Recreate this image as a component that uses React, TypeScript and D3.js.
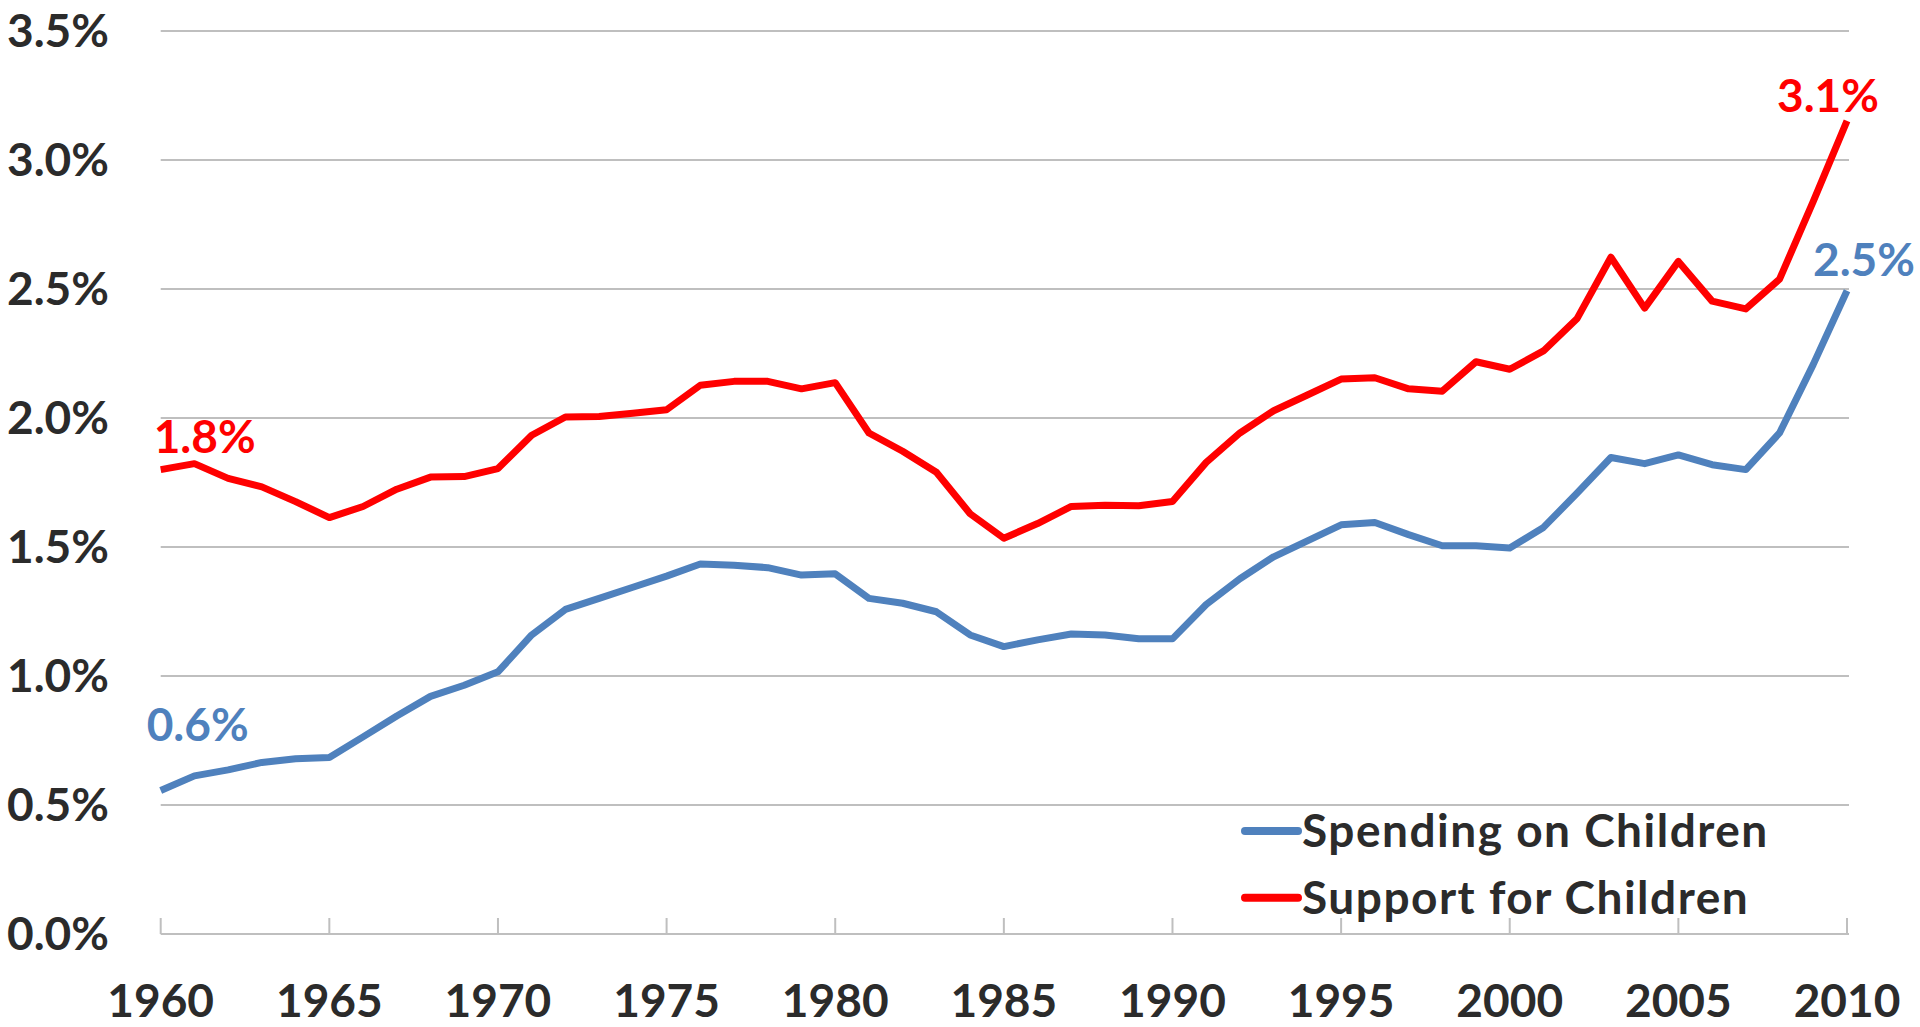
import React from "react";
import * as d3 from "d3";

const years: number[] = d3.range(1960, 2011);

const supportForChildren: number[] = [
  1.80, 1.823, 1.766, 1.733, 1.676, 1.614, 1.657, 1.724, 1.771, 1.773,
  1.804, 1.933, 2.004, 2.006, 2.018, 2.032, 2.127, 2.142, 2.142, 2.113,
  2.137, 1.942, 1.871, 1.790, 1.629, 1.534, 1.591, 1.657, 1.662, 1.660,
  1.676, 1.828, 1.942, 2.028, 2.089, 2.151, 2.156, 2.113, 2.104, 2.218,
  2.189, 2.260, 2.386, 2.623, 2.426, 2.607, 2.453, 2.423, 2.538, 2.840,
  3.152,
];

const spendingOnChildren: number[] = [
  0.556, 0.613, 0.636, 0.665, 0.679, 0.684, 0.764, 0.845, 0.921, 0.964,
  1.016, 1.159, 1.258, 1.301, 1.344, 1.387, 1.434, 1.429, 1.420, 1.391,
  1.396, 1.301, 1.282, 1.249, 1.159, 1.114, 1.140, 1.163, 1.159, 1.144,
  1.144, 1.277, 1.377, 1.462, 1.524, 1.586, 1.595, 1.548, 1.505, 1.505,
  1.496, 1.576, 1.709, 1.847, 1.823, 1.857, 1.819, 1.800, 1.942, 2.208,
  2.493,
];

const yTicks: number[] = [0, 0.5, 1.0, 1.5, 2.0, 2.5, 3.0, 3.5];
const xTicks: number[] = [1960, 1965, 1970, 1975, 1980, 1985, 1990, 1995, 2000, 2005, 2010];

const seriesNames: string[] = ["Spending on Children", "Support for Children"];
const seriesColors: string[] = ["#4F81BD", "#FF0000"];
const annotationTexts: string[] = ["0.6%", "2.5%", "1.8%", "3.1%"];

const FONT = "Lato, 'Open Sans', sans-serif";
const TEXT_COLOR = "#2b2b2b";

export default function App() {
  const width = 1920;
  const height = 1027;
  const x = d3.scaleLinear().domain([1960, 2010]).range([160.7, 1847]);
  const y = d3.scaleLinear().domain([0, 3.5]).range([934, 31]);

  const line = d3
    .line<number>()
    .x((_, i) => x(years[i]))
    .y((d) => y(d));

  const series = [spendingOnChildren, supportForChildren];
  const last = years.length - 1;

  // annotations: [text, series index, point index, dx, dy, anchor]
  const annotations: [string, number, number, number, number, string][] = [
    [annotationTexts[0], 0, 0, -14, -50, "start"],
    [annotationTexts[1], 0, last, 68, -15, "end"],
    [annotationTexts[2], 1, 0, -7, -17, "start"],
    [annotationTexts[3], 1, last, 32, -9, "end"],
  ];

  return (
    <svg
      width={width}
      height={height}
      style={{ position: "absolute", left: 0, top: 0, background: "#fff" }}
    >
      <rect width={width} height={height} fill="#fff" />
      {yTicks.map((t) => (
        <g key={"y" + t}>
          <line
            x1={x(1960)}
            x2={x(2010) + 2}
            y1={y(t)}
            y2={y(t)}
            stroke="#BFBFBF"
            strokeWidth={2}
          />
          <text
            x={109}
            y={y(t) + 16}
            textAnchor="end"
            fontFamily={FONT}
            fontWeight={700}
            fontSize={46}
            fill={TEXT_COLOR}
          >
            {d3.format(".1f")(t) + "%"}
          </text>
        </g>
      ))}
      {xTicks.map((t) => (
        <g key={"x" + t}>
          <line
            x1={x(t)}
            x2={x(t)}
            y1={y(0) - 16}
            y2={y(0)}
            stroke="#BFBFBF"
            strokeWidth={2}
          />
          <text
            x={x(t)}
            y={1017}
            textAnchor="middle"
            fontFamily={FONT}
            fontWeight={700}
            fontSize={46}
            fill={TEXT_COLOR}
          >
            {t}
          </text>
        </g>
      ))}
      {series.map((s, i) => (
        <path
          key={"s" + i}
          d={line(s) || ""}
          fill="none"
          stroke={seriesColors[i]}
          strokeWidth={7}
          strokeLinejoin="round"
        />
      ))}
      {annotations.map(([txt, si, pi, dx, dy, anchor]) => (
        <text
          key={txt}
          x={x(years[pi]) + dx}
          y={y(series[si][pi]) + dy}
          textAnchor={anchor}
          fontFamily={FONT}
          fontWeight={700}
          fontSize={46}
          fill={seriesColors[si]}
        >
          {txt}
        </text>
      ))}
      {seriesNames.map((name, i) => {
        const ly = 831 + i * 66.7;
        return (
          <g key={name}>
            <line
              x1={1245}
              x2={1298}
              y1={ly}
              y2={ly}
              stroke={seriesColors[i]}
              strokeWidth={8}
              strokeLinecap="round"
            />
            <text
              x={1302}
              y={ly + 16}
              fontFamily={FONT}
              fontWeight={700}
              fontSize={46}
              letterSpacing={1.5}
              fill={TEXT_COLOR}
            >
              {name}
            </text>
          </g>
        );
      })}
    </svg>
  );
}
